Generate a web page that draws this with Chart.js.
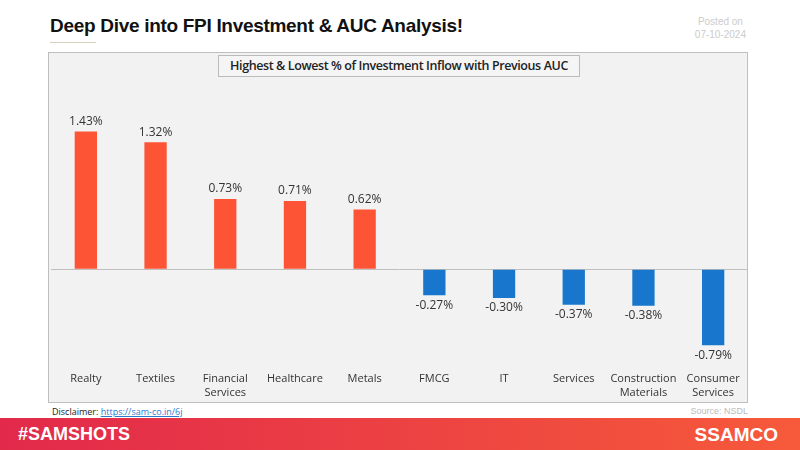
<!DOCTYPE html>
<html><head><meta charset="utf-8">
<script src="https://cdn.jsdelivr.net/npm/chart.js@4"></script>
<style>
body{margin:0;width:800px;height:450px;background:#fff;position:relative;overflow:hidden;font-family:"Liberation Sans",Arial,sans-serif}
#title{position:absolute;left:50px;top:15px;font-size:19px;font-weight:bold;color:#111;letter-spacing:-0.3px;font-family:"Liberation Sans",sans-serif}
#uline{position:absolute;left:50px;top:42px;width:46px;height:1px;background:#d8cfc0}
#posted{position:absolute;right:54px;top:15px;font-size:10px;color:#ccc;text-align:center;line-height:13px}
#box{position:absolute;left:48px;top:52px;width:700px;height:351px;background:#f2f2f2;border:1px solid #bfbfbf;box-sizing:border-box}
#sub{position:absolute;left:218px;top:55px;width:360px;height:20px;border:1px solid #bbb;background:#f5f5f5;font-family:"Open Sans",sans-serif;font-size:12.5px;font-weight:600;color:#222;text-align:center;line-height:20px;letter-spacing:-0.4px}
#cv{position:absolute;left:48px;top:52px}
#disc{position:absolute;left:52px;top:405px;font-size:9px;color:#222;font-family:"Open Sans",sans-serif}
#disc a{color:#2a7bd0;text-decoration:underline}
#src{position:absolute;right:52px;top:406px;font-size:9px;color:#bbb}
#band{position:absolute;left:0;top:418px;width:800px;height:32px;background:linear-gradient(90deg,#e2294b,#f65a3a)}
#tag{position:absolute;left:18px;top:424px;color:#fff;font-size:18px;font-weight:bold;font-family:"Liberation Sans Narrow","Liberation Sans",sans-serif}
#logo{position:absolute;right:22px;top:424px;color:#fff;font-size:19px;font-weight:bold;font-family:"Liberation Sans",sans-serif}
</style></head><body>
<div id="title">Deep Dive into FPI Investment &amp; AUC Analysis!</div>
<div id="uline"></div>
<div id="posted">Posted on<br>07-10-2024</div>
<div id="box"></div>
<canvas id="cv" width="700" height="351"></canvas>
<div id="sub">Highest &amp; Lowest % of Investment Inflow with Previous AUC</div>
<div id="disc">Disclaimer: <a>https://sam-co.in/6j</a></div>
<div id="src">Source: NSDL</div>
<div id="band"></div>
<div id="tag">#SAMSHOTS</div>
<div id="logo">ЅSAMCO</div>
<script>
const categories=[["Realty"],["Textiles"],["Financial","Services"],["Healthcare"],["Metals"],["FMCG"],["IT"],["Services"],["Construction","Materials"],["Consumer","Services"]];
const values=[1.43,1.32,0.73,0.71,0.62,-0.27,-0.30,-0.37,-0.38,-0.79];
const labelPlugin={id:'lbl',afterDatasetsDraw(c){const ctx=c.ctx;const m=c.getDatasetMeta(0);ctx.save();ctx.font='12px "Open Sans",sans-serif';ctx.fillStyle='#333';ctx.textAlign='center';
m.data.forEach((b,i)=>{const v=values[i];const t=v.toFixed(2)+'%';if(v>=0){ctx.textBaseline='bottom';ctx.fillText(t,b.x,b.y-4);}else{ctx.textBaseline='top';ctx.fillText(t,b.x,b.y+4);}});ctx.restore();}};
new Chart(document.getElementById('cv'),{type:'bar',
data:{labels:categories,datasets:[{data:values,backgroundColor:values.map(v=>v>=0?'#fd5435':'#1877cc'),barPercentage:0.32,categoryPercentage:1}]},
options:{responsive:false,animation:false,layout:{padding:{left:3,right:0,top:44,bottom:0}},
plugins:{legend:{display:false},tooltip:{enabled:false}},
scales:{y:{display:true,min:-0.95,max:1.8,ticks:{display:false},grid:{display:true,drawTicks:false,color:c=>c.tick.value===0?'#bfbfbf':'transparent'},border:{display:false}},
x:{grid:{display:false},border:{display:false},ticks:{color:'#333',font:{family:'"Open Sans",sans-serif',size:11},padding:4,maxRotation:0,autoSkip:false}}}},
plugins:[labelPlugin]});
</script></body></html>
